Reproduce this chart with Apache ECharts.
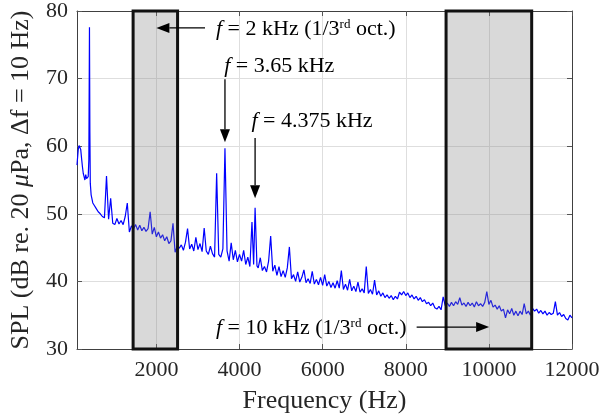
<!DOCTYPE html>
<html><head><meta charset="utf-8">
<script src="https://cdn.jsdelivr.net/npm/echarts@6/dist/echarts.min.js"></script>
<style>html,body{margin:0;padding:0;background:#fff}#c{width:603px;height:419px}</style>
</head><body><div id="c"></div>
<script>
const freqHz = [90,100,120,140,160,180,200,220,240,260,280,300,320,340,360,375,390,400,410,430,450,470,500,550,
600,650,700,750,800,850,900,950,1000,1050,1100,1150,1200,1250,1300,1350,1400,1450,1500,1550,1600,1650,1700,1750,1800,1850,
1900,1950,2000,2050,2100,2150,2200,2250,2300,2350,2400,2450,2500,2550,2600,2650,2700,2750,2800,2850,2900,2950,3000,3050,3100,
3150,3200,3250,3300,3350,3400,3450,3500,3550,3600,3650,3700,3750,3800,3850,3900,3950,4000,4050,4100,4150,4200,4250,4300,4340,
4375,4420,4450,4500,4550,4600,4650,4700,4750,4800,4850,4900,4950,5000,5050,5100,5150,5200,5250,5300,5350,5400,5450,5500,5550,
5600,5650,5700,5750,5800,5850,5900,5950,6000,6050,6100,6150,6200,6250,6300,6350,6400,6450,6500,6550,6600,6650,6700,6750,6800,
6850,6900,6950,7000,7050,7100,7150,7200,7250,7300,7350,7400,7450,7500,7550,7600,7650,7700,7750,7800,7850,7900,7950,8000,8050,
8100,8150,8200,8250,8300,8350,8400,8450,8500,8550,8600,8650,8700,8750,8800,8850,8900,8950,9000,9050,9100,9150,9200,9250,9300,
9350,9400,9450,9500,9550,9600,9650,9700,9750,9800,9850,9900,9950,10000,10050,10100,10150,10200,10250,10300,10350,10400,10450,
10500,10550,10600,10650,10700,10750,10800,10850,10900,10950,11000,11050,11100,11150,11200,11250,11300,11350,11400,11450,11500,
11550,11600,11650,11700,11750,11800,11850,11900,11950,12000];
const splDb = [57.2,58.0,59.5,60.1,60.3,59.5,58.2,57.0,56.0,55.5,55.0,55.8,55.2,55.0,55.5,58.0,77.6,62.0,54.5,52.8,52.2,51.6,51.3,50.8,
50.3,50.0,49.6,49.4,55.6,49.2,52.3,48.6,48.4,49.3,48.5,49.0,48.4,49.6,51.6,47.3,48.2,47.8,48.4,47.6,48.3,47.5,48.0,47.4,47.8,50.3,
47.0,48.0,46.6,47.3,46.4,46.9,46.0,46.6,45.6,46.0,48.6,44.3,45.2,44.9,45.4,44.6,45.8,47.8,44.8,45.5,44.5,46.5,44.7,45.6,44.4,
47.9,44.5,44.0,45.2,44.1,43.6,56.0,44.0,43.6,44.8,59.7,44.5,43.0,45.7,43.2,44.6,42.9,44.0,43.0,44.6,42.5,43.6,42.2,48.8,42.5,
50.9,42.3,42.0,43.5,41.6,42.2,41.4,43.0,46.7,41.5,42.4,40.9,42.2,40.7,41.6,40.6,42.0,45.1,40.4,41.0,40.0,41.4,39.9,40.6,41.7,
39.8,40.4,39.7,41.5,39.6,40.3,39.5,40.6,39.4,41.0,39.3,40.0,39.1,39.8,39.0,40.1,39.0,41.6,38.8,39.6,38.7,40.3,38.6,39.3,38.5,
39.9,38.4,38.9,38.3,42.2,38.2,38.8,38.1,40.2,38.0,38.6,37.8,38.3,37.6,38.0,37.5,37.9,37.3,37.8,37.4,38.4,38.0,38.5,37.9,38.3,
37.6,38.0,37.4,37.8,37.2,37.6,37.0,37.3,36.7,36.9,36.4,36.8,36.1,35.9,36.3,35.8,37.7,36.4,36.8,36.3,36.9,36.4,37.0,36.6,37.6,
36.5,36.8,36.3,36.9,36.4,36.8,36.2,37.0,36.4,36.7,36.3,36.9,38.5,36.6,37.2,36.2,36.5,35.9,36.4,35.6,35.9,34.6,35.8,
35.2,36.0,35.0,35.6,34.9,35.6,35.1,36.7,35.2,35.6,35.0,36.0,35.6,35.9,35.3,35.7,35.2,35.6,35.0,35.4,35.1,
35.3,37.0,35.0,35.4,34.8,35.1,34.5,34.3,35.0,34.6];
const bandStartHz = [1440, 8970];
const bandEndHz = [2510, 11030];
const xTicks = [2000, 4000, 6000, 8000, 10000, 12000];
const yTicks = [30, 40, 50, 60, 70, 80];
const xMin = 90, xMax = 12000, yMin = 30, yMax = 80;

const FONT = 'Liberation Serif';
const axisColor = '#404040';
const gridColor = '#dedede';

const chart = echarts.init(document.getElementById('c'), null, {renderer: 'canvas'});
const baseX = {
  type: 'value', min: xMin, max: xMax,
  axisLine: {show: true, lineStyle: {color: axisColor, width: 1}},
  axisTick: {show: true, inside: true, length: 5, customValues: xTicks, lineStyle: {color: '#555'}},
};
const baseY = {
  type: 'value', min: yMin, max: yMax, interval: 10,
  axisLine: {show: true, lineStyle: {color: axisColor, width: 1}},
  axisTick: {show: true, inside: true, length: 5, lineStyle: {color: '#555'}},
};
const option = {
  animation: false,
  backgroundColor: '#fff',
  grid: {left: 73, right: 31, top: 11, bottom: 70, containLabel: false},
  xAxis: [
    Object.assign({}, baseX, {
      position: 'bottom',
      axisLabel: {customValues: xTicks, formatter: v => String(v), fontFamily: FONT, fontSize: 22, color: '#262626', margin: 10},
      splitLine: {show: true, lineStyle: {color: gridColor, width: 1}},
      name: 'Frequency (Hz)', nameLocation: 'middle', nameGap: 39,
      nameTextStyle: {fontFamily: FONT, fontSize: 26, color: '#262626'}
    }),
    Object.assign({}, baseX, {position: 'top', axisLabel: {show: false}, splitLine: {show: false}})
  ],
  yAxis: [
    Object.assign({}, baseY, {
      position: 'left',
      axisLabel: {formatter: v => String(v), fontFamily: FONT, fontSize: 22, color: '#262626', margin: 9},
      splitLine: {show: true, lineStyle: {color: gridColor, width: 1}},
      name: 'SPL (dB re. 20 {i|μ}Pa, Δf = 10 Hz)', nameLocation: 'middle', nameGap: 43,
      nameTextStyle: {fontFamily: FONT, fontSize: 26, color: '#262626',
        rich: {i: {fontFamily: FONT, fontSize: 26, fontStyle: 'italic', color: '#262626'}}}
    }),
    Object.assign({}, baseY, {position: 'right', axisLabel: {show: false}, splitLine: {show: false}})
  ],
  series: [
    {
      type: 'line', xAxisIndex: 0, yAxisIndex: 0, z: 2,
      data: freqHz.map((f, i) => [f, splDb[i]]),
      showSymbol: false, symbol: 'none', sampling: null,
      lineStyle: {color: '#0000ff', width: 1.2}
    },
    {
      type: 'custom', xAxisIndex: 0, yAxisIndex: 0, z: 3, clip: false,
      data: bandStartHz.map((s, i) => [s, bandEndHz[i], yMin, yMax]),
      encode: {x: [0, 1], y: [2, 3]},
      renderItem: (params, api) => {
        const p1 = api.coord([api.value(0), api.value(3)]);
        const p2 = api.coord([api.value(1), api.value(2)]);
        return {type: 'rect',
          shape: {x: p1[0], y: p1[1], width: p2[0] - p1[0], height: p2[1] - p1[1]},
          style: {fill: 'rgba(128,128,128,0.3)', stroke: '#111', lineWidth: 3}};
      }
    }
  ]
};
chart.setOption(option);

const P = (x, y) => chart.convertToPixel({xAxisIndex: 0, yAxisIndex: 0}, [x, y]);
function arrow(from, to) {
  const a = P(from[0], from[1]), b = P(to[0], to[1]);
  const dx = b[0] - a[0], dy = b[1] - a[1];
  const L = Math.hypot(dx, dy), ux = dx / L, uy = dy / L;
  const hl = 13, hw = 5;
  const bx = b[0] - ux * hl, by = b[1] - uy * hl;
  return [
    {type: 'line', z: 100, shape: {x1: a[0], y1: a[1], x2: bx, y2: by}, style: {stroke: '#000', lineWidth: 1.3}},
    {type: 'polygon', z: 100, shape: {points: [[b[0], b[1]], [bx - uy * hw, by + ux * hw], [bx + uy * hw, by - ux * hw]]},
      style: {fill: '#000'}}
  ];
}
const richStyle = {
  i: {fontFamily: FONT, fontSize: 22, fontStyle: 'italic', fill: '#000'},
  sup: {fontFamily: FONT, fontSize: 13, verticalAlign: 'top', fill: '#000'}
};
function label(text, at) {
  const p = P(at[0], at[1]);
  return {type: 'text', z: 100, x: p[0], y: p[1],
    style: {text: text, fontFamily: FONT, fontSize: 22, fill: '#000', align: 'left', verticalAlign: 'middle', rich: richStyle}};
}
const g = [].concat(
  arrow([3170, 77.5], [2000, 77.5]),
  [label('{i|f} = 2 kHz (1/3{sup|rd} oct.)', [3434, 77.3])],
  [label('{i|f} = 3.65 kHz', [3630, 71.9])],
  arrow([3650, 69.9], [3650, 60.6]),
  [label('{i|f} = 4.375 kHz', [4287, 63.7])],
  arrow([4375, 61.2], [4375, 52.3]),
  [label('{i|f} = 10 kHz (1/3{sup|rd} oct.)', [3434, 33.1])],
  arrow([8262, 33.25], [10006, 33.25])
);
chart.setOption({graphic: g});
</script>
</body></html>
